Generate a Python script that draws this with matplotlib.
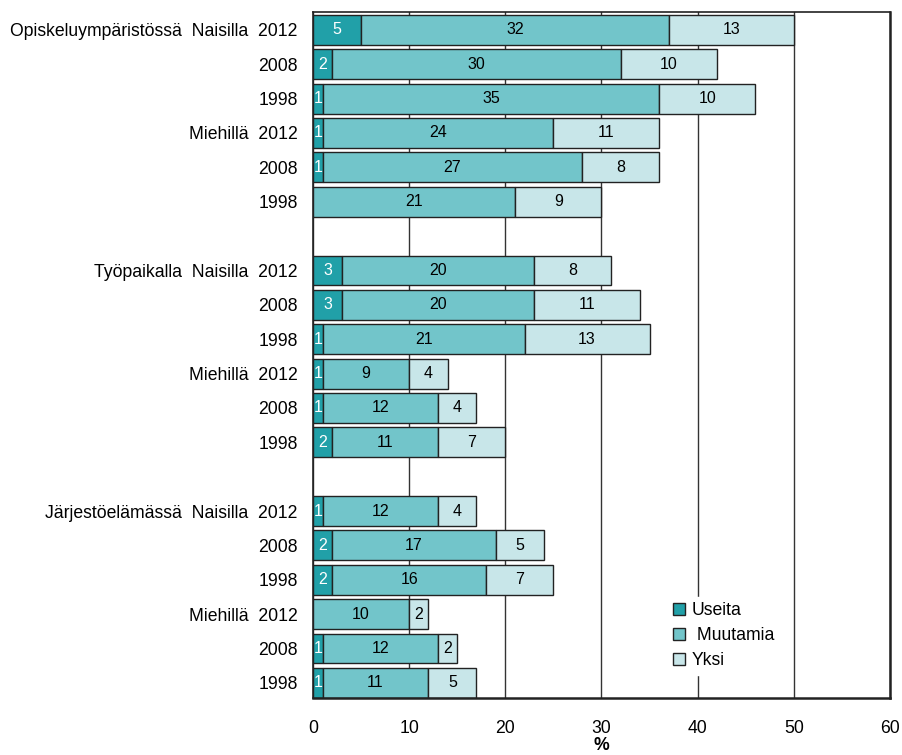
import numpy as np
import matplotlib.pyplot as plt

plt.rcParams['font.family'] = ['Liberation Sans', 'DejaVu Sans']

# rows from top to bottom, None marks an empty spacer row
labels = [
    'Opiskeluympäristössä  Naisilla  2012', '2008', '1998',
    'Miehillä  2012', '2008', '1998', None,
    'Työpaikalla  Naisilla  2012', '2008', '1998',
    'Miehillä  2012', '2008', '1998', None,
    'Järjestöelämässä  Naisilla  2012', '2008', '1998',
    'Miehillä  2012', '2008', '1998',
]
useita   = [5, 2, 1, 1, 1, 0, None, 3, 3, 1, 1, 1, 2, None, 1, 2, 2, 0, 1, 1]
muutamia = [32, 30, 35, 24, 27, 21, None, 20, 20, 21, 9, 12, 11, None, 12, 17, 16, 10, 12, 11]
yksi     = [13, 10, 10, 11, 8, 9, None, 8, 11, 13, 4, 4, 7, None, 4, 5, 7, 2, 2, 5]

series = [('Useita', useita, '#21a0a8', 'white'),
          (' Muutamia', muutamia, '#72c5ca', 'black'),
          ('Yksi', yksi, '#c8e6e9', 'black')]

fig = plt.figure(figsize=(9.03, 7.55), dpi=100)
ax = fig.add_axes([0.3466, 0.0755, 0.6390, 0.9086])

rows = [i for i, l in enumerate(labels) if l is not None]
left = np.zeros(len(rows))
for name, vals, col, tcol in series:
    v = np.array([vals[i] for i in rows], dtype=float)
    ax.barh(rows, v, left=left, height=0.87, color=col, edgecolor='#222222',
            linewidth=1, label=name, zorder=2)
    for y, l, w in zip(rows, left, v):
        if w > 0:
            ax.text(l + w / 2, y, f'{int(w)}', ha='center', va='center',
                    color=tcol, fontsize=11.5, zorder=3)
    left += v

ax.set_yticks(rows)
ax.set_yticklabels([labels[i] for i in rows], fontsize=12.7)
ax.set_ylim(19.44, -0.52)
ax.set_xlim(0, 60)
ax.set_xticks(range(0, 61, 10))
ax.tick_params(axis='x', labelsize=12.7, length=0, pad=16)
ax.tick_params(axis='y', length=0, pad=11)
ax.xaxis.grid(True, color='#333333', linewidth=1, zorder=0)
ax.set_axisbelow(True)
for s in ax.spines.values():
    s.set_color('#222222')
    s.set_linewidth(1.2)
ax.spines['bottom'].set_linewidth(1.8)
ax.spines['right'].set_linewidth(1.8)
ax.set_xlabel('%', fontsize=12.7, fontweight='bold', labelpad=0)

leg = ax.legend(loc='upper left', bbox_to_anchor=(0.6, 0.16), fontsize=12.7,
                frameon=True, facecolor='white', edgecolor='white', framealpha=1,
                handlelength=0.65, handleheight=0.65, handletextpad=0.4,
                labelspacing=0.45, borderpad=0.3)

fig.savefig('out.png', dpi=100)
